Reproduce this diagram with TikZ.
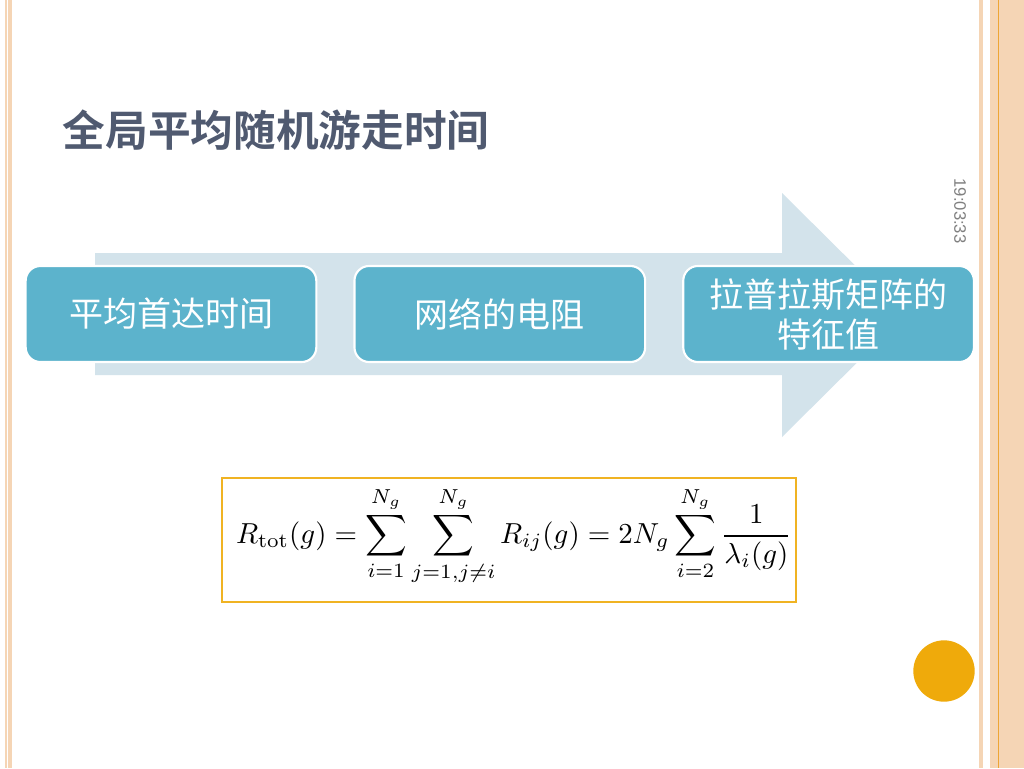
\documentclass[tikz,border=0pt]{standalone}
\usepackage{fontspec}
\usepackage{amsmath}
\usepackage{tikz}
\usetikzlibrary{positioning}
\newfontfamily\cjk{Noto Sans CJK SC}
\newfontfamily\cjkbold{Noto Sans CJK SC Bold}
\setsansfont{Liberation Sans}
\definecolor{titlegray}{HTML}{505A70}
\definecolor{stepteal}{HTML}{5CB3CC}
\definecolor{arrowpale}{HTML}{D3E3EB}
\definecolor{frameamber}{HTML}{F0B323}
\definecolor{dotamber}{HTML}{EFAA0B}
\definecolor{edgepeach}{HTML}{F5D5B5}
\definecolor{edgeorange}{HTML}{EDA535}

\begin{document}
\begin{tikzpicture}[
  x=0.75pt,y=-0.75pt,
  every node/.style={align=center},
  stepbox/.style={draw=white,line width=1.6pt,rounded corners=11pt,fill=stepteal,text=white,
    font=\cjk\fontsize{25.5}{30}\selectfont,minimum width=218pt,minimum height=72pt,inner sep=2pt},
  edgeline/.style={fill=edgepeach,draw=none}
]
\useasboundingbox (0,0) rectangle (1024,768);
\fill[white] (0,0) rectangle (1024,768);

% page edges
\fill[edgeline] (5,0) rectangle (6.5,768);
\fill[edgeline] (8,0) rectangle (12,768);
\fill[edgeline] (979,0) rectangle (983,768);
\fill[edgeline] (990,0) rectangle (1024,768);
\draw[edgeorange,line width=0.8pt] (998.5,0) -- (998.5,768);

% title
\node[anchor=west,text=titlegray,font=\cjkbold\fontsize{32}{38}\selectfont] (title) at (58,130) {全局平均随机游走时间};

% timestamp
\node[rotate=-90,text=gray,font=\sffamily\fontsize{12.5}{14}\selectfont] (clock) at (960,211) {19:03:33};

% big arrow behind the steps
\fill[arrowpale] (95,253) -- (782,253) -- (782,193) -- (905,315) -- (782,437) -- (782,375) -- (95,375) -- cycle;

% steps
\node[stepbox] (hitting) at (171,314) {平均首达时间};
\node[stepbox,right=27pt of hitting] (resist) {网络的电阻};
\node[stepbox,right=27pt of resist] (eigen) {拉普拉斯矩阵的\\特征值};

% formula
\node[draw=frameamber,line width=1.5pt,minimum width=430pt,minimum height=93pt,inner sep=0pt] (frame) at (509,540) {};
\node[scale=2.17] (formula) at (514,536) {$\displaystyle R_{\mathrm{tot}}(g)=\sum_{i=1}^{N_g}\sum_{j=1,j\neq i}^{N_g}R_{ij}(g)=2N_g\sum_{i=2}^{N_g}\frac{1}{\lambda_i(g)}$};

% dot
\fill[dotamber] (944,671) circle (23pt);
\end{tikzpicture}
\end{document}
